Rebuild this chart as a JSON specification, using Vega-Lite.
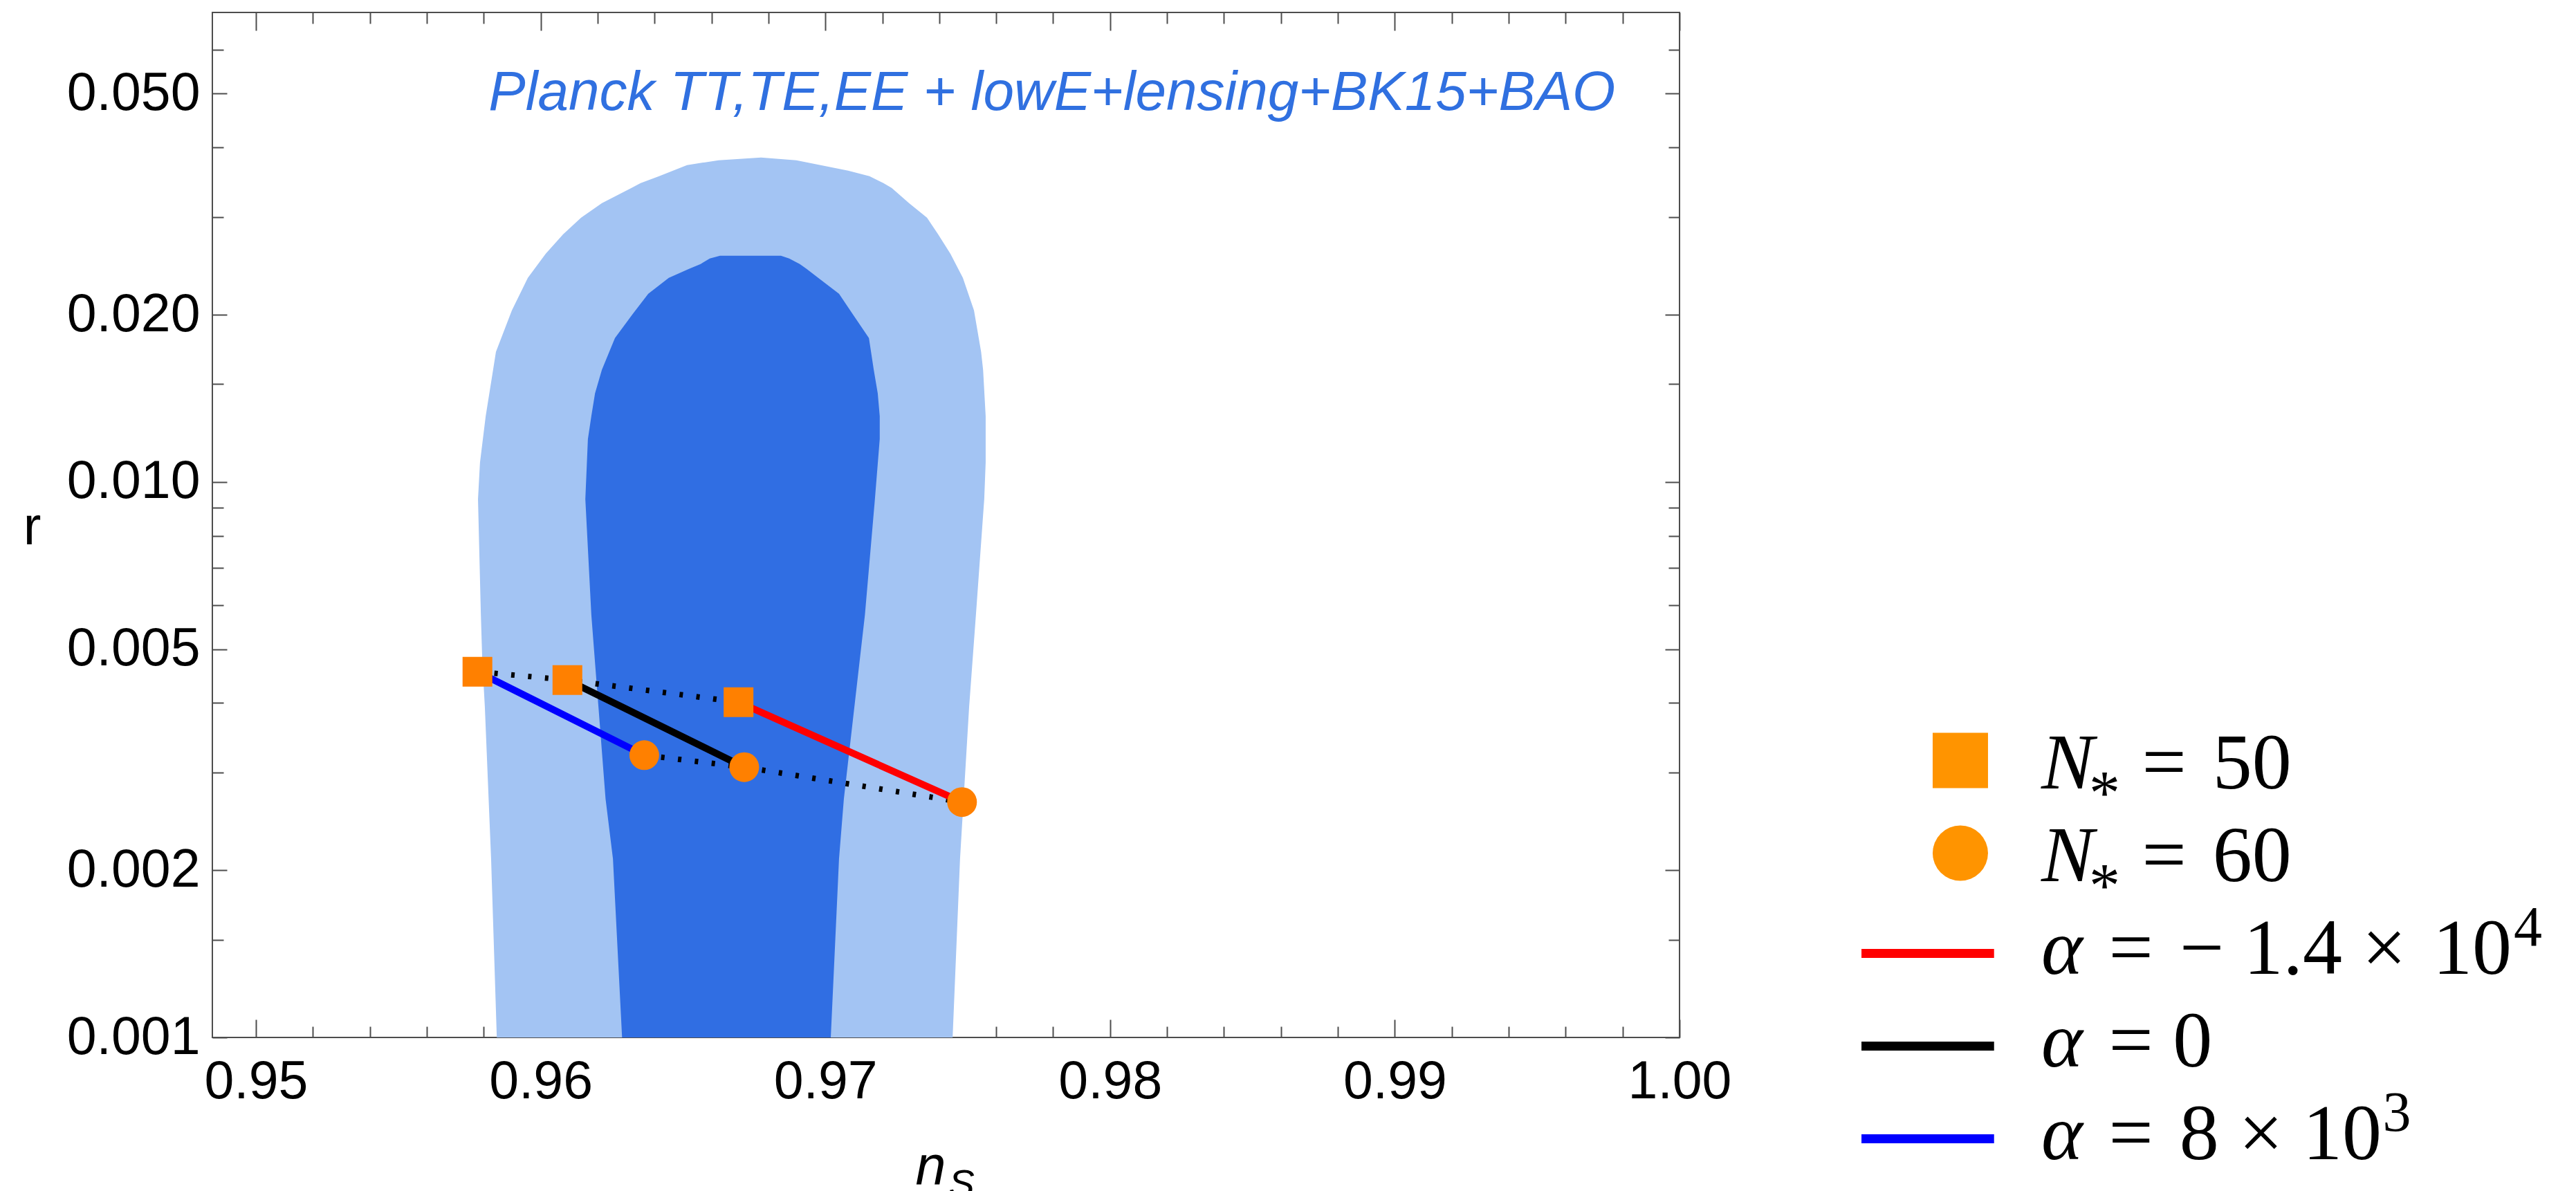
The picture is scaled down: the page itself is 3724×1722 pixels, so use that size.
{
  "$schema": "https://vega.github.io/schema/vega-lite/v6.json",
  "background": "white",
  "padding": {"left": 32, "top": 16, "right": 0, "bottom": 0},
  "bounds": "flush",
  "spacing": 0,
  "config": {
    "view": {"stroke": null},
    "axis": {
      "domain": false,
      "grid": false,
      "tickColor": "#4d4d4d",
      "tickWidth": 2,
      "tickCap": "butt",
      "labelFont": "Liberation Sans",
      "labelFontSize": 77,
      "labelColor": "#000000",
      "labelLimit": 1000,
      "labelOverlap": false,
      "labelFlush": false,
      "titleColor": "#000000",
      "titleFontWeight": "normal"
    }
  },
  "datasets": {
    "contour95": [
      {"r": 0.001, "lo": 0.95846, "hi": 0.97447},
      {"r": 0.002096, "lo": 0.95826, "hi": 0.97473},
      {"r": 0.003938, "lo": 0.95804, "hi": 0.97505},
      {"r": 0.004772, "lo": 0.95795, "hi": 0.97517},
      {"r": 0.005783, "lo": 0.95790, "hi": 0.97529},
      {"r": 0.009308, "lo": 0.95780, "hi": 0.97558},
      {"r": 0.01084, "lo": 0.95787, "hi": 0.97563},
      {"r": 0.01313, "lo": 0.95807, "hi": 0.97563},
      {"r": 0.01591, "lo": 0.95833, "hi": 0.97554},
      {"r": 0.01714, "lo": 0.95843, "hi": 0.97547},
      {"r": 0.02036, "lo": 0.95899, "hi": 0.97522},
      {"r": 0.02330, "lo": 0.95955, "hi": 0.97483},
      {"r": 0.02576, "lo": 0.96018, "hi": 0.97439},
      {"r": 0.02791, "lo": 0.96079, "hi": 0.97396},
      {"r": 0.02990, "lo": 0.96142, "hi": 0.97357},
      {"r": 0.03176, "lo": 0.96215, "hi": 0.97294},
      {"r": 0.03383, "lo": 0.96319, "hi": 0.97233},
      {"r": 0.03451, "lo": 0.96351, "hi": 0.97204},
      {"r": 0.03552, "lo": 0.96416, "hi": 0.97155},
      {"r": 0.03634, "lo": 0.96465, "hi": 0.97080},
      {"r": 0.03718, "lo": 0.96514, "hi": 0.96983},
      {"r": 0.03794, "lo": 0.96625, "hi": 0.96898},
      {"r": 0.03838, "lo": 0.96774, "hi": 0.96774}
    ],
    "contour68": [
      {"r": 0.001, "lo": 0.96286, "hi": 0.97019},
      {"r": 0.002096, "lo": 0.96254, "hi": 0.97048},
      {"r": 0.002689, "lo": 0.96228, "hi": 0.97065},
      {"r": 0.003938, "lo": 0.96203, "hi": 0.97102},
      {"r": 0.005767, "lo": 0.96178, "hi": 0.97139},
      {"r": 0.009308, "lo": 0.96157, "hi": 0.97174},
      {"r": 0.01195, "lo": 0.96166, "hi": 0.97191},
      {"r": 0.01313, "lo": 0.96178, "hi": 0.97191},
      {"r": 0.01443, "lo": 0.96191, "hi": 0.97184},
      {"r": 0.01591, "lo": 0.96215, "hi": 0.97170},
      {"r": 0.01816, "lo": 0.96261, "hi": 0.97153},
      {"r": 0.02002, "lo": 0.96322, "hi": 0.97097},
      {"r": 0.02181, "lo": 0.96378, "hi": 0.97048},
      {"r": 0.02330, "lo": 0.96450, "hi": 0.96975},
      {"r": 0.02419, "lo": 0.96521, "hi": 0.96934},
      {"r": 0.02468, "lo": 0.96562, "hi": 0.96910},
      {"r": 0.02525, "lo": 0.96594, "hi": 0.96873},
      {"r": 0.02554, "lo": 0.96630, "hi": 0.96844}
    ],
    "predictions": [
      {"N": 50, "alpha": "-1.4e4", "ns": 0.96695, "r": 0.004014},
      {"N": 60, "alpha": "-1.4e4", "ns": 0.97480, "r": 0.002653},
      {"N": 50, "alpha": "0", "ns": 0.96094, "r": 0.004400},
      {"N": 60, "alpha": "0", "ns": 0.96715, "r": 0.003066},
      {"N": 50, "alpha": "8e3", "ns": 0.95778, "r": 0.004554},
      {"N": 60, "alpha": "8e3", "ns": 0.96364, "r": 0.003222}
    ],
    "annotation": [
      {"label": "Planck TT,TE,EE + lowE+lensing+BK15+BAO", "ns": 0.97796, "r": 0.046772}
    ],
    "key": [
      {"row": 1, "kind": "N50", "v": "N", "sub": "*", "rest": "=\u200450"},
      {"row": 2, "kind": "N60", "v": "N", "sub": "*", "rest": "=\u200460"},
      {"row": 3, "kind": "-1.4e4", "v": "\u03b1", "rest": "=\u2004\u2212\u20051.4\u2005\u00d7\u200410", "sup": "4"},
      {"row": 4, "kind": "0", "v": "\u03b1", "rest": "=\u20050"},
      {"row": 5, "kind": "8e3", "v": "\u03b1", "rest": "=\u20048\u2005\u00d7\u200510", "sup": "3"}
    ]
  },
  "hconcat": [
    {
      "width": 2121,
      "height": 1482,
      "view": {"stroke": "#4d4d4d", "strokeWidth": 2},
      "resolve": {"axis": {"x": "independent", "y": "independent"}},
      "layer": [
        {
          "data": {"name": "contour95"},
          "mark": {"type": "area", "orient": "horizontal", "color": "#a3c4f3"},
          "encoding": {
            "y": {
              "field": "r", "type": "quantitative",
              "scale": {"type": "log", "domain": [0.001, 0.07], "nice": false},
              "axis": {
                "orient": "left",
                "values": [0.001, 0.002, 0.005, 0.01, 0.02, 0.05],
                "format": ".3f",
                "tickSize": -21,
                "labelPadding": 39,
                "labelBaseline": "middle",
                "title": "r",
                "titleFont": "Liberation Sans",
                "titleFontSize": 77,
                "titleAngle": 0,
                "titleAlign": "center",
                "titleBaseline": "alphabetic",
                "titleX": -261,
                "titleY": 768
              }
            },
            "x": {
              "field": "lo", "type": "quantitative",
              "scale": {"domain": [0.94847, 1.0], "nice": false, "zero": false},
              "axis": {
                "orient": "bottom",
                "values": [0.95, 0.96, 0.97, 0.98, 0.99, 1.0],
                "format": ".2f",
                "tickSize": -26,
                "labelPadding": 52,
                "title": "n",
                "titleFont": "Liberation Sans",
                "titleFontStyle": "italic",
                "titleFontSize": 79,
                "titleAlign": "center",
                "titleBaseline": "alphabetic",
                "titleX": 1038,
                "titleY": 212
              }
            },
            "x2": {"field": "hi"}
          }
        },
        {
          "data": {"name": "contour68"},
          "mark": {"type": "area", "orient": "horizontal", "color": "#306ee3"},
          "encoding": {
            "y": {
              "field": "r", "type": "quantitative",
              "axis": {
                "orient": "left",
                "values": [0.0015, 0.003, 0.004, 0.006, 0.007, 0.008, 0.009, 0.015, 0.03, 0.04, 0.06],
                "tickSize": -16,
                "labels": false,
                "title": null
              }
            },
            "x": {
              "field": "lo", "type": "quantitative",
              "axis": {
                "orient": "bottom",
                "values": [0.952, 0.954, 0.956, 0.958, 0.962, 0.964, 0.966, 0.968, 0.972, 0.974, 0.976, 0.978, 0.982, 0.984, 0.986, 0.988, 0.992, 0.994, 0.996, 0.998],
                "tickSize": -16,
                "labels": false,
                "title": "S",
                "titleFont": "Liberation Sans",
                "titleFontStyle": "italic",
                "titleFontSize": 56,
                "titleAlign": "left",
                "titleBaseline": "alphabetic",
                "titleX": 1064,
                "titleY": 229
              }
            },
            "x2": {"field": "hi"}
          }
        },
        {
          "data": {"name": "predictions"},
          "mark": {"type": "line", "color": "#000000", "strokeWidth": 8, "strokeDash": [5, 19.5], "strokeCap": "butt"},
          "encoding": {
            "detail": {"field": "N", "type": "nominal"},
            "x": {
              "field": "ns", "type": "quantitative",
              "axis": {
                "orient": "top",
                "values": [0.95, 0.96, 0.97, 0.98, 0.99, 1.0],
                "tickSize": -26,
                "labels": false,
                "title": null
              }
            },
            "y": {
              "field": "r", "type": "quantitative",
              "axis": {
                "orient": "right",
                "values": [0.001, 0.002, 0.005, 0.01, 0.02, 0.05],
                "tickSize": -21,
                "labels": false,
                "title": null
              }
            }
          }
        },
        {
          "data": {"name": "predictions"},
          "mark": {"type": "line", "strokeWidth": 10, "strokeCap": "round"},
          "encoding": {
            "color": {
              "field": "alpha", "type": "nominal",
              "scale": {"domain": ["-1.4e4", "0", "8e3"], "range": ["#ff0000", "#000000", "#0000ff"]},
              "legend": null
            },
            "x": {
              "field": "ns", "type": "quantitative",
              "axis": {
                "orient": "top",
                "values": [0.952, 0.954, 0.956, 0.958, 0.962, 0.964, 0.966, 0.968, 0.972, 0.974, 0.976, 0.978, 0.982, 0.984, 0.986, 0.988, 0.992, 0.994, 0.996, 0.998],
                "tickSize": -16,
                "labels": false,
                "title": null
              }
            },
            "y": {
              "field": "r", "type": "quantitative",
              "axis": {
                "orient": "right",
                "values": [0.0015, 0.003, 0.004, 0.006, 0.007, 0.008, 0.009, 0.015, 0.03, 0.04, 0.06],
                "tickSize": -16,
                "labels": false,
                "title": null
              }
            }
          }
        },
        {
          "data": {"name": "predictions"},
          "mark": {"type": "point", "filled": true, "size": 1849, "color": "#ff8000", "opacity": 1, "strokeWidth": 0},
          "encoding": {
            "shape": {
              "field": "N", "type": "nominal",
              "scale": {"domain": [50, 60], "range": ["square", "circle"]},
              "legend": null
            },
            "x": {"field": "ns", "type": "quantitative", "axis": null},
            "y": {"field": "r", "type": "quantitative", "axis": null}
          }
        },
        {
          "data": {"name": "annotation"},
          "mark": {
            "type": "text",
            "font": "Liberation Sans",
            "fontStyle": "italic",
            "fontSize": 80,
            "color": "#3070e0",
            "align": "center",
            "baseline": "alphabetic"
          },
          "encoding": {
            "text": {"field": "label"},
            "x": {"field": "ns", "type": "quantitative", "axis": null},
            "y": {"field": "r", "type": "quantitative", "axis": null}
          }
        }
      ]
    },
    {
      "width": 1297,
      "height": 1700,
      "view": {"stroke": null},
      "data": {"name": "key"},
      "encoding": {
        "y": {
          "field": "row", "type": "quantitative",
          "scale": {"domain": [1, 5], "range": [1121.5, 1657.5]},
          "axis": null
        }
      },
      "layer": [
        {
          "transform": [{"filter": "datum.row <= 2"}],
          "mark": {"type": "point", "filled": true, "size": 6400, "color": "#ff9400", "opacity": 1, "strokeWidth": 0, "yOffset": -40},
          "encoding": {
            "x": {"datum": 31.30, "type": "quantitative", "scale": {"domain": [0, 100]}, "axis": null},
            "shape": {
              "field": "kind", "type": "nominal",
              "scale": {"domain": ["N50", "N60"], "range": ["square", "circle"]},
              "legend": null
            }
          }
        },
        {
          "transform": [{"filter": "datum.row >= 3"}],
          "mark": {"type": "rule", "strokeWidth": 13, "strokeCap": "butt", "yOffset": -29},
          "encoding": {
            "x": {"datum": 20.28, "type": "quantitative", "axis": null},
            "x2": {"datum": 35.06},
            "color": {
              "field": "kind", "type": "nominal",
              "scale": {"domain": ["-1.4e4", "0", "8e3"], "range": ["#ff2a00", "#000000", "#0033ff"]},
              "legend": null
            }
          }
        },
        {
          "mark": {"type": "text", "font": "Liberation Serif", "fontStyle": "italic", "fontSize": 114, "align": "left", "baseline": "alphabetic", "color": "#000000"},
          "encoding": {
            "x": {"datum": 40.32, "type": "quantitative", "axis": null},
            "text": {"field": "v"}
          }
        },
        {
          "transform": [{"filter": "datum.row <= 2"}],
          "mark": {"type": "text", "font": "Liberation Serif", "fontSize": 90, "align": "left", "baseline": "alphabetic", "color": "#000000", "yOffset": 37},
          "encoding": {
            "x": {"datum": 45.64, "type": "quantitative", "axis": null},
            "text": {"field": "sub"}
          }
        },
        {
          "transform": [{"filter": "datum.row <= 2"}],
          "mark": {"type": "text", "font": "Liberation Serif", "fontSize": 114, "align": "left", "baseline": "alphabetic", "color": "#000000"},
          "encoding": {
            "x": {"datum": 51.54, "type": "quantitative", "axis": null},
            "text": {"field": "rest"}
          }
        },
        {
          "transform": [{"filter": "datum.row >= 3"}],
          "mark": {"type": "text", "font": "Liberation Serif", "fontSize": 114, "align": "left", "baseline": "alphabetic", "color": "#000000"},
          "encoding": {
            "x": {"datum": 47.84, "type": "quantitative", "axis": null},
            "text": {"field": "rest"}
          }
        },
        {
          "transform": [{"filter": "datum.row == 3"}],
          "mark": {"type": "text", "font": "Liberation Serif", "fontSize": 82, "align": "left", "baseline": "alphabetic", "color": "#000000", "yOffset": -41},
          "encoding": {
            "x": {"datum": 92.98, "type": "quantitative", "axis": null},
            "text": {"field": "sup"}
          }
        },
        {
          "transform": [{"filter": "datum.row == 5"}],
          "mark": {"type": "text", "font": "Liberation Serif", "fontSize": 82, "align": "left", "baseline": "alphabetic", "color": "#000000", "yOffset": -41},
          "encoding": {
            "x": {"datum": 78.37, "type": "quantitative", "axis": null},
            "text": {"field": "sup"}
          }
        }
      ]
    }
  ]
}
